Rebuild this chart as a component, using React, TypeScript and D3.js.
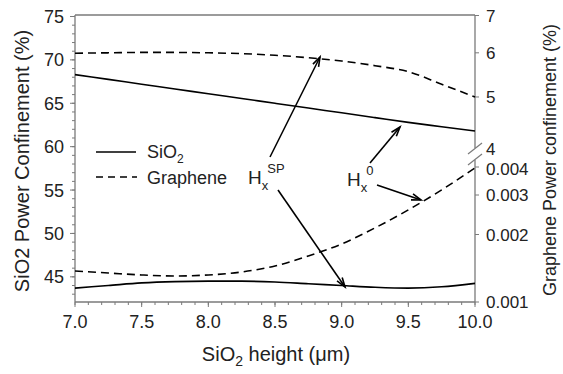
import React from "react";
import * as d3 from "d3";

// SiO2 height (µm)
const heights = [7.0, 7.25, 7.5, 7.75, 8.0, 8.25, 8.5, 8.75, 9.0, 9.25, 9.5, 9.75, 10.0];

// SiO2 power confinement (%), left axis
const sio2Hx0 = [68.3, 67.75, 67.2, 66.65, 66.1, 65.55, 65.0, 64.45, 63.9, 63.35, 62.8, 62.3, 61.8];
const sio2HxSP = [43.7, 44.0, 44.3, 44.45, 44.5, 44.5, 44.4, 44.2, 44.0, 43.8, 43.7, 43.85, 44.25];

// Graphene power confinement (%), right axis (upper and lower broken segments)
const grapheneHxSP = [5.99, 6.0, 6.01, 6.01, 6.0, 5.98, 5.94, 5.88, 5.8, 5.69, 5.55, 5.27, 5.0];
const grapheneHx0 = [0.001375, 0.001347, 0.00132, 0.001306, 0.00132, 0.001361, 0.001448, 0.001605, 0.001815, 0.00214, 0.002575, 0.003162, 0.003966];

const xTicks = [7.0, 7.5, 8.0, 8.5, 9.0, 9.5, 10.0];
const leftTicks = [45, 50, 55, 60, 65, 70, 75];
const rightUpperTicks = [4, 5, 6, 7];
const rightLowerTicks = [0.001, 0.002, 0.003, 0.004];

const W = 563;
const H = 374;
const L = 75, R = 475, T = 15, B = 302;
const axisColor = "#7a7a7a";
const font = "Liberation Sans, Arial, sans-serif";

export default function App() {
  const x = d3.scaleLinear().domain([7, 10]).range([L, R]);
  const yLeft = d3.scaleLinear().domain([42.1, 75]).range([B, 16.5]);
  const yUp = d3.scaleLog().domain([4, 7]).range([151, 15.5]);
  const yLow = d3.scaleLog().domain([0.001, 0.004]).range([B, 167]);

  const curve = d3.curveMonotoneX;
  const lineL = d3.line<number>().x((_, i) => x(heights[i])).y((d) => yLeft(d)).curve(curve);
  const lineU = d3.line<number>().x((_, i) => x(heights[i])).y((d) => yUp(d)).curve(curve);
  const lineLo = d3.line<number>().x((_, i) => x(heights[i])).y((d) => yLow(d)).curve(curve);

  const xMinor = d3.range(70, 101).map((v) => v / 10);
  const leftMinor = d3.range(43, 76);

  const arrow = (x1: number, y1: number, x2: number, y2: number, key: string) => {
    const a = Math.atan2(y2 - y1, x2 - x1);
    const len = 10, spread = 0.32;
    const p1 = [x2 - len * Math.cos(a - spread), y2 - len * Math.sin(a - spread)];
    const p2 = [x2 - len * Math.cos(a + spread), y2 - len * Math.sin(a + spread)];
    return (
      <g key={key} stroke="#000" strokeWidth={1.6} fill="none">
        <line x1={x1} y1={y1} x2={x2} y2={y2} />
        <polyline points={`${p1[0]},${p1[1]} ${x2},${y2} ${p2[0]},${p2[1]}`} />
      </g>
    );
  };

  return (
    <svg width={W} height={H} style={{ position: "absolute", left: 0, top: 0, background: "#fff" }} fontFamily={font}>
      {/* frame */}
      <line x1={L} y1={T} x2={R} y2={T} stroke={axisColor} strokeWidth={1.3} />
      <line x1={L} y1={T} x2={L} y2={B} stroke={axisColor} strokeWidth={1.3} />
      <line x1={L} y1={B} x2={R} y2={B} stroke={axisColor} strokeWidth={1.3} />
      <line x1={R} y1={T} x2={R} y2={148} stroke={axisColor} strokeWidth={1.3} />
      <line x1={R} y1={160} x2={R} y2={B} stroke={axisColor} strokeWidth={1.3} />
      {/* axis break marks */}
      <line x1={R - 7} y1={154} x2={R + 7} y2={143} stroke={axisColor} strokeWidth={1.2} />
      <line x1={R - 7} y1={165} x2={R + 7} y2={154} stroke={axisColor} strokeWidth={1.2} />

      {/* x ticks */}
      {xMinor.map((v) => (
        <line key={"xm" + v} x1={x(v)} x2={x(v)} y1={B} y2={B + 3} stroke={axisColor} />
      ))}
      {xTicks.map((v) => (
        <g key={"xt" + v}>
          <line x1={x(v)} x2={x(v)} y1={B} y2={B + 5} stroke={axisColor} />
          <text x={x(v)} y={328} textAnchor="middle" fontSize={18} fill="#222">
            {v.toFixed(1)}
          </text>
        </g>
      ))}

      {/* left ticks */}
      {leftMinor.map((v) => (
        <line key={"lm" + v} x1={L - 3} x2={L} y1={yLeft(v)} y2={yLeft(v)} stroke={axisColor} />
      ))}
      {leftTicks.map((v) => (
        <g key={"lt" + v}>
          <line x1={L - 5} x2={L} y1={yLeft(v)} y2={yLeft(v)} stroke={axisColor} />
          <text x={64} y={yLeft(v) + 6.5} textAnchor="end" fontSize={18} fill="#222">
            {v}
          </text>
        </g>
      ))}

      {/* right ticks */}
      {rightUpperTicks.map((v) => (
        <g key={"ru" + v}>
          {v !== 4 && <line x1={R} x2={R + 4} y1={yUp(v)} y2={yUp(v)} stroke={axisColor} />}
          <text x={486} y={yUp(v) + (v === 4 ? 4 : 6)} fontSize={17} fill="#222">
            {v}
          </text>
        </g>
      ))}
      {rightLowerTicks.map((v) => (
        <g key={"rl" + v}>
          <line x1={R} x2={R + 4} y1={yLow(v)} y2={yLow(v)} stroke={axisColor} />
          <text x={486} y={yLow(v) + (v === 0.004 ? 7.5 : 6)} fontSize={17} fill="#222">
            {v.toFixed(3)}
          </text>
        </g>
      ))}

      {/* curves */}
      <path d={lineL(sio2Hx0) || ""} fill="none" stroke="#000" strokeWidth={1.6} />
      <path d={lineL(sio2HxSP) || ""} fill="none" stroke="#000" strokeWidth={1.6} />
      <path d={lineU(grapheneHxSP) || ""} fill="none" stroke="#000" strokeWidth={1.6} strokeDasharray="8,5" />
      <path d={lineLo(grapheneHx0) || ""} fill="none" stroke="#000" strokeWidth={1.6} strokeDasharray="8,5" />

      {/* legend */}
      <line x1={96} x2={136} y1={152} y2={152} stroke="#000" strokeWidth={1.6} />
      <text x={147} y={158} fontSize={18} fill="#222">
        SiO<tspan dy={5} fontSize={12}>2</tspan>
      </text>
      <line x1={96} x2={137} y1={177} y2={177} stroke="#000" strokeWidth={1.6} strokeDasharray="7,5" />
      <text x={147} y={184} fontSize={18} fill="#222">Graphene</text>

      {/* mode labels */}
      <text x={248} y={184} fontSize={19} fill="#222">
        H<tspan dy={6} fontSize={13}>x</tspan>
        <tspan dy={-17} dx={-1} fontSize={13}>SP</tspan>
      </text>
      <text x={347} y={186} fontSize={19} fill="#222">
        H<tspan dy={6} fontSize={13}>x</tspan>
        <tspan dy={-17} dx={-1} fontSize={13}>0</tspan>
      </text>
      {arrow(270, 157, 320, 57, "a1")}
      {arrow(278, 190, 345, 287, "a2")}
      {arrow(370, 163, 400, 127, "a3")}
      {arrow(377, 185, 421, 200, "a4")}

      {/* axis titles */}
      <text transform={`translate(29,161) rotate(-90)`} textAnchor="middle" fontSize={20} fill="#222">
        SiO2 Power Confinement (%)
      </text>
      <text transform={`translate(556,160) rotate(-90)`} textAnchor="middle" fontSize={18} fill="#222">
        Graphene Power confinement (%)
      </text>
      <text x={276} y={361} textAnchor="middle" fontSize={20} fill="#222">
        SiO<tspan dy={5} fontSize={14}>2</tspan>
        <tspan dy={-5}> height (</tspan>
        <tspan>μ</tspan>
        <tspan>m)</tspan>
      </text>
    </svg>
  );
}
